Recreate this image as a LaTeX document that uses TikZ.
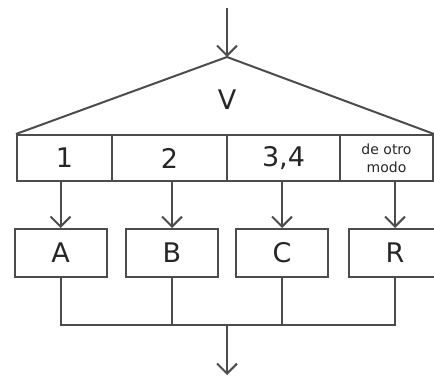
\documentclass[tikz,border=0pt]{standalone}
\usepackage{fontspec}
\setmainfont{DejaVu Sans}
\usetikzlibrary{arrows.meta,calc}

\begin{document}
\begin{tikzpicture}[x=1pt,y=-1pt]
  \tikzstyle{cell} = [rectangle,minimum height=46pt,inner sep=0pt,
  draw=black!70,line width=2pt,text=black!85,font=\fontsize{27}{29}\selectfont]
  \tikzstyle{box} = [cell,minimum height=48pt,minimum width=92pt]
  \tikzstyle{line} = [line width=2pt,draw=black!70]
  \tikzstyle{ref} = [line,-{Straight Barb[length=10pt,width=20pt,line width=2pt]}]

  \useasboundingbox (0,0) rectangle (434,377);

  % selector row
  \node[cell,name=c1,minimum width=95pt] at (64.5,158) {1};
  \node[cell,name=c2,minimum width=115pt] at (169.5,158) {2};
  \node[cell,name=c3,minimum width=113pt] at (283.5,158) {3,4};
  \node[cell,name=c4,minimum width=93pt,align=center,
  font=\fontsize{14}{18}\selectfont] at (386.5,158) {de otro\\modo};

  % triangle
  \coordinate (apex) at (227,57);
  \coordinate (entry) at (227,8);
  \draw[line,line join=round] (c1.north west) -- (apex) -- (c4.north east);
  \node[name=vlabel,text=black!85,font=\fontsize{27}{29}\selectfont] at (227,100) {V};
  \path (entry) edge[ref] (apex);

  % branches
  \node[box,name=bA] at (60.5,253) {A};
  \node[box,name=bB] at (172,253) {B};
  \node[box,name=bC] at (282,253) {C};
  \node[box,name=bR] at (395,253) {R};

  \path (c1.south -| bA) edge[ref] (bA.north);
  \path (c2.south -| bB) edge[ref] (bB.north);
  \path (c3.south -| bC) edge[ref] (bC.north);
  \path (c4.south -| bR) edge[ref] (bR.north);

  % join
  \coordinate (jA) at ($(bA.south)+(0,47)$);
  \coordinate (jR) at ($(bR.south)+(0,47)$);
  \coordinate (jmid) at (227,324);
  \coordinate (exit) at (227,375);
  \draw[line] (bA.south) -- (jA) -- (jR) -- (bR.south);
  \draw[line] (bB.south) -- (bB.south |- jA);
  \draw[line] (bC.south) -- (bC.south |- jA);
  \path (jmid) edge[ref] (exit);

\end{tikzpicture}
\end{document}
